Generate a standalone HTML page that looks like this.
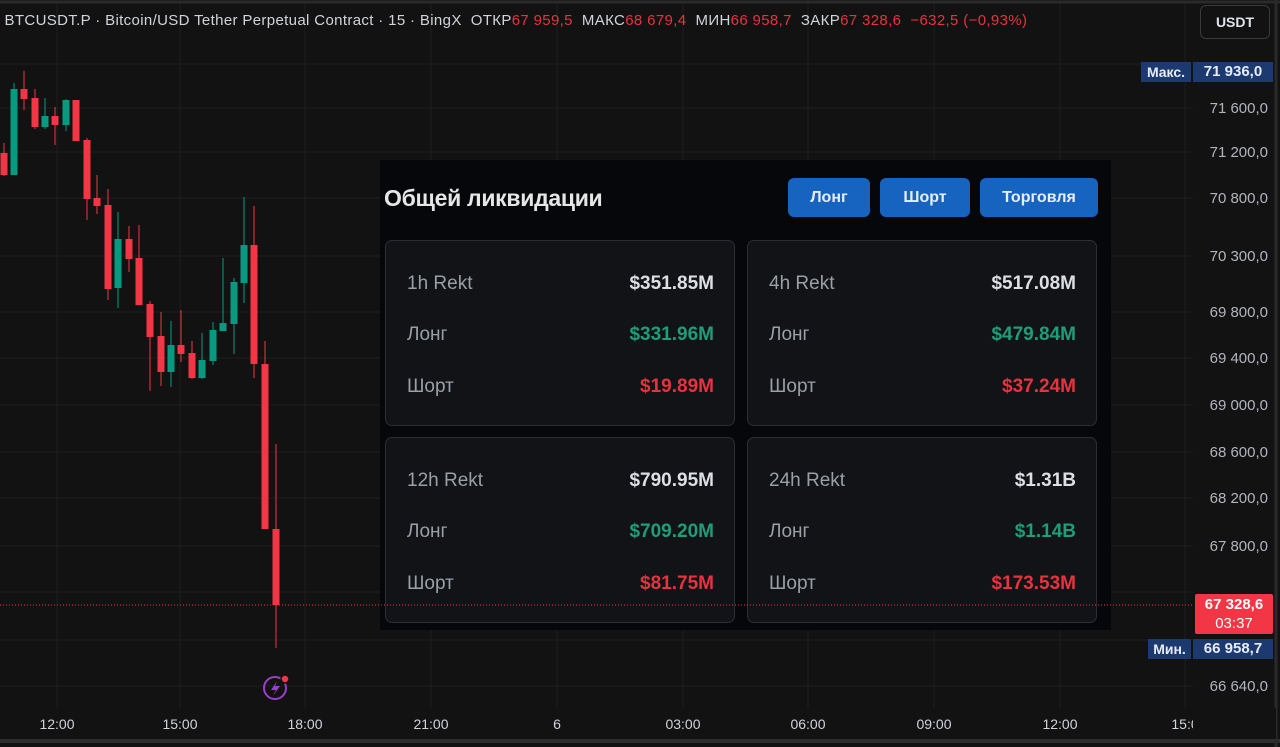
<!DOCTYPE html>
<html><head><meta charset="utf-8"><style>
*{margin:0;padding:0;box-sizing:border-box}
body{width:1280px;height:747px;background:#121212;overflow:hidden;position:relative;font-family:"Liberation Sans","Noto Sans CJK SC",sans-serif}
.abs{position:absolute}
.panel{position:absolute;left:380px;top:160px;width:731px;height:470px;background:#05070b}
.title{position:absolute;left:4px;top:25px;font-size:23px;font-weight:bold;color:#e6e6e6;letter-spacing:-0.3px}
.btn{position:absolute;top:18px;height:39px;background:#1664c0;border-radius:6px;color:#e8eef8;font-weight:bold;font-size:16px;text-align:center;line-height:39px}
.card{position:absolute;width:350px;height:186px;background:#111317;border:1px solid #2a2e36;border-radius:7px}
.row{position:absolute;left:21px;right:20px;font-size:19px;color:#9aa0a8;height:24px;line-height:24px}
.row span{position:absolute;right:0;top:0;font-weight:bold}
.w{color:#dcdfe4}.g{color:#1e9e78}.r{color:#e8323f}
</style></head><body>
<svg class="abs" style="left:0;top:0" width="1280" height="747">
<g stroke="#1f1f1f" stroke-width="1">
<line x1="0" y1="64" x2="1193" y2="64"/><line x1="0" y1="108" x2="1193" y2="108"/><line x1="0" y1="152" x2="1193" y2="152"/><line x1="0" y1="198" x2="1193" y2="198"/><line x1="0" y1="256" x2="1193" y2="256"/><line x1="0" y1="312" x2="1193" y2="312"/><line x1="0" y1="358" x2="1193" y2="358"/><line x1="0" y1="405" x2="1193" y2="405"/><line x1="0" y1="452" x2="1193" y2="452"/><line x1="0" y1="498" x2="1193" y2="498"/><line x1="0" y1="546" x2="1193" y2="546"/><line x1="0" y1="592" x2="1193" y2="592"/><line x1="0" y1="640" x2="1193" y2="640"/><line x1="0" y1="686" x2="1193" y2="686"/>
<line x1="57" y1="0" x2="57" y2="708"/><line x1="180" y1="0" x2="180" y2="708"/><line x1="305" y1="0" x2="305" y2="708"/><line x1="431" y1="0" x2="431" y2="708"/><line x1="557" y1="0" x2="557" y2="708"/><line x1="683" y1="0" x2="683" y2="708"/><line x1="808" y1="0" x2="808" y2="708"/><line x1="934" y1="0" x2="934" y2="708"/><line x1="1060" y1="0" x2="1060" y2="708"/><line x1="1185" y1="0" x2="1185" y2="708"/>
</g>
<line x1="0" y1="2" x2="1280" y2="2" stroke="#2a2a2a" stroke-width="3"/>
<line x1="0" y1="741" x2="1280" y2="741" stroke="#2e2e2e" stroke-width="4"/>
<line x1="1276" y1="0" x2="1276" y2="747" stroke="#2a2a2a" stroke-width="3"/>
<g id="c"></g>
<circle cx="275" cy="688" r="11" fill="none" stroke="#9b3fc6" stroke-width="2"/>
<path d="M277 681 L271 690 L276 690 L273 696 L280 686 L275 686 Z" fill="#9b3fc6"/>
<circle cx="285" cy="679" r="4" fill="#f23645" stroke="#121212" stroke-width="1.5"/>
<g font-size="14" fill="#d1d4dc" text-anchor="middle" font-family="Liberation Sans, sans-serif">
<text x="57" y="729">12:00</text><text x="180" y="729">15:00</text><text x="305" y="729">18:00</text><text x="431" y="729">21:00</text><text x="557" y="729">6</text><text x="683" y="729">03:00</text><text x="808" y="729">06:00</text><text x="934" y="729">09:00</text><text x="1060" y="729">12:00</text><text x="1185" y="729">15:0</text>
</g>
<rect x="1193" y="708" width="83" height="31" fill="#121212"/>
<g font-size="15" fill="#b2b5be" text-anchor="end">
<text x="1268" y="113">71 600,0</text><text x="1268" y="157">71 200,0</text><text x="1268" y="203">70 800,0</text><text x="1268" y="261">70 300,0</text><text x="1268" y="317">69 800,0</text><text x="1268" y="363">69 400,0</text><text x="1268" y="410">69 000,0</text><text x="1268" y="457">68 600,0</text><text x="1268" y="503">68 200,0</text><text x="1268" y="551">67 800,0</text><text x="1268" y="691">66 640,0</text>
</g>
</svg>
<div class="abs" style="left:0;top:12px;font-size:15px;letter-spacing:0.35px;color:#d1d4dc;white-space:nowrap">&nbsp;BTCUSDT.P · Bitcoin/USD Tether Perpetual Contract · 15 · BingX&nbsp; ОТКР<span class="r">67 959,5</span>&nbsp; МАКС<span class="r">68 679,4</span>&nbsp; МИН<span class="r">66 958,7</span>&nbsp; ЗАКР<span class="r">67 328,6</span>&nbsp; <span class="r">−632,5 (−0,93%)</span></div>
<div class="abs" style="left:1200px;top:5px;width:70px;height:34px;border:1px solid #3a3a3a;border-radius:6px;color:#e0e3eb;font-size:14px;font-weight:bold;text-align:center;line-height:32px">USDT</div>
<div class="abs" style="left:1141px;top:62px;width:50px;height:20px;background:#1c3a70;color:#e8ecf5;font-size:14px;font-weight:bold;text-align:center;line-height:20px">Макс.</div>
<div class="abs" style="left:1193px;top:62px;width:80px;height:20px;background:#1c3a70;color:#e8ecf5;font-size:15px;font-weight:bold;text-align:center;line-height:20px">71 936,0</div>
<div class="abs" style="left:1148px;top:639px;width:43px;height:20px;background:#1c3a70;color:#e8ecf5;font-size:14px;font-weight:bold;text-align:center;line-height:20px">Мин.</div>
<div class="abs" style="left:1193px;top:639px;width:80px;height:20px;background:#1c3a70;color:#e8ecf5;font-size:15px;font-weight:bold;text-align:center;line-height:20px">66 958,7</div>
<div class="panel">
<div class="title">Общей ликвидации</div>
<div class="btn" style="left:408px;width:82px">Лонг</div>
<div class="btn" style="left:500px;width:90px">Шорт</div>
<div class="btn" style="left:600px;width:118px">Торговля</div>
<div class="card" style="left:5px;top:80px">
<div class="row" style="top:31px">1h Rekt<span class="w">$351.85M</span></div>
<div class="row" style="top:82px">Лонг<span class="g">$331.96M</span></div>
<div class="row" style="top:134px">Шорт<span class="r">$19.89M</span></div></div>
<div class="card" style="left:367px;top:80px">
<div class="row" style="top:31px">4h Rekt<span class="w">$517.08M</span></div>
<div class="row" style="top:82px">Лонг<span class="g">$479.84M</span></div>
<div class="row" style="top:134px">Шорт<span class="r">$37.24M</span></div></div>
<div class="card" style="left:5px;top:277px">
<div class="row" style="top:31px">12h Rekt<span class="w">$790.95M</span></div>
<div class="row" style="top:82px">Лонг<span class="g">$709.20M</span></div>
<div class="row" style="top:134px">Шорт<span class="r">$81.75M</span></div></div>
<div class="card" style="left:367px;top:277px">
<div class="row" style="top:31px">24h Rekt<span class="w">$1.31B</span></div>
<div class="row" style="top:82px">Лонг<span class="g">$1.14B</span></div>
<div class="row" style="top:134px">Шорт<span class="r">$173.53M</span></div></div>
</div>
<svg class="abs" style="left:0;top:0" width="1280" height="747">
<line x1="0" y1="605" x2="1193" y2="605" stroke="#f23645" stroke-width="1" stroke-dasharray="1,2"/>
<rect x="1195" y="594" width="78" height="40" rx="2" fill="#f23645"/>
<text x="1234" y="609" font-size="15" font-weight="bold" fill="#fff" text-anchor="middle">67 328,6</text>
<text x="1234" y="628" font-size="15" fill="#fff" text-anchor="middle">03:37</text>
</svg>
<script>
var d=[[4,153,175,143,176,0],[14,89,175,83,175,1],[24,89,99,71,110,0],[35,98,127,89,129,0],[45,116,127,98,129,1],[55,116,125,107,145,0],[66,100,125,99,131,1],[76,100,141,100,141,0],[87,140,199,138,220,0],[97,198,206,175,214,0],[108,205,289,189,300,0],[118,239,288,212,308,1],[129,239,259,226,272,0],[139,258,305,225,305,0],[150,304,337,301,391,0],[161,336,372,312,386,0],[171,345,372,321,387,1],[181,345,354,310,362,0],[192,353,378,341,379,0],[202,360,378,333,379,1],[213,330,361,322,365,1],[223,323,331,258,331,1],[234,282,324,278,354,1],[244,245,283,197,303,1],[254,245,364,206,378,0],[265,364,529,341,529,0],[276,529,605,444,648,0]];
var s='';d.forEach(function(c){var col=c[5]?'#089981':'#f23645';s+='<line x1="'+c[0]+'" y1="'+c[3]+'" x2="'+c[0]+'" y2="'+c[4]+'" stroke="'+col+'" stroke-width="1"/><rect x="'+(c[0]-3.5)+'" y="'+c[1]+'" width="7" height="'+Math.max(1,c[2]-c[1])+'" fill="'+col+'"/>';});
document.getElementById('c').innerHTML=s;
</script>
</body></html>
